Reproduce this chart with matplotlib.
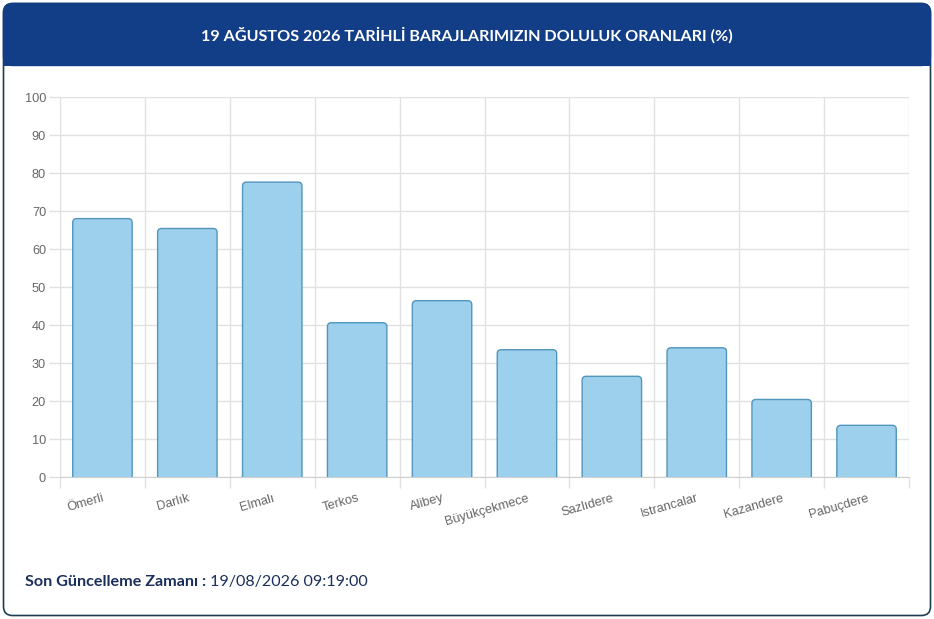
import matplotlib
matplotlib.use('Agg')
import matplotlib.pyplot as plt
from matplotlib.patches import FancyBboxPatch, Rectangle

W, H = 934, 619

baraj_adlari = ['Ömerli', 'Darlık', 'Elmalı', 'Terkos', 'Alibey', 'Büyükçekmece',
                'Sazlıdere', 'Istrancalar', 'Kazandere', 'Pabuçdere']
doluluk = [68.0, 65.4, 77.6, 40.6, 46.4, 33.5, 26.5, 34.0, 20.4, 13.6]
y_ticks = list(range(0, 101, 10))

baslik = '19 AĞUSTOS 2026 TARİHLİ BARAJLARIMIZIN DOLULUK ORANLARI (%)'
guncelleme_etiket = 'Son Güncelleme Zamanı :'
guncelleme_zaman = '19/08/2026 09:19:00'

NAVY = '#123e87'
BORDER = '#1e3f52'
GRID = '#e1e1e1'
TICK = '#666666'
BAR_FACE = '#9dd0ec'
BAR_EDGE = '#5296bc'

fig = plt.figure(figsize=(W / 100, H / 100), dpi=100)

# background card
bg = fig.add_axes([0, 0, 1, 1], zorder=0)
bg.set_xlim(0, W)
bg.set_ylim(H, 0)
bg.axis('off')
bg.add_patch(FancyBboxPatch((3.5, 3.5), W - 7, H - 7,
                            boxstyle='round,pad=0,rounding_size=9',
                            fc='white', ec=BORDER, lw=1.2))
bg.add_patch(FancyBboxPatch((3.5, 3.5), W - 7, 62,
                            boxstyle='round,pad=0,rounding_size=9',
                            fc=NAVY, ec=NAVY, lw=1))
bg.add_patch(Rectangle((3.5, 40), W - 7, 25.5, fc=NAVY, ec='none'))
bg.text(W / 2, 35, baslik, color='white', ha='center', va='center',
        fontsize=11.6, fontweight='bold', family='Lato')
t1 = bg.text(25, 582, guncelleme_etiket, color='#1b2f5c', ha='left', va='center',
             fontsize=11.6, fontweight='bold', family='Lato')
fig.canvas.draw()
bb = t1.get_window_extent()
x_end = bb.x1 + 4
bg.text(x_end, 582, guncelleme_zaman, color='#1b2f5c', ha='left', va='center',
        fontsize=11.6, family='Lato')

# chart
left, right = 60 / W, 909 / W
top, bottom = 1 - 97 / H, 1 - 477 / H
ax = fig.add_axes([left, bottom, right - left, top - bottom], zorder=1)
ax.set_facecolor('none')
n = len(baraj_adlari)
ax.set_xlim(-0.5, n - 0.5)
ax.set_ylim(0, 100)

bw = 0.7
px_x = (right - left) * W / n
px_y = (top - bottom) * H / 100
r = 4 / px_x
for i, v in enumerate(doluluk):
    p = FancyBboxPatch((i - bw / 2, -3), bw, v + 3,
                       boxstyle='round,pad=0,rounding_size=%f' % r,
                       mutation_aspect=px_x / px_y,
                       fc=BAR_FACE, ec=BAR_EDGE, lw=1, zorder=3)
    ax.add_patch(p)

ax.set_yticks(y_ticks)
ax.set_yticklabels([str(t) for t in y_ticks], family='Liberation Sans', fontsize=9.2, color=TICK)
ax.set_xticks(range(n))
ax.set_xticklabels(baraj_adlari, rotation=16, ha='right', va='top', rotation_mode='anchor',
                   family='Liberation Sans', fontsize=9.2, color=TICK)
ax.set_xticks([i - 0.5 for i in range(n + 1)], minor=True)
ax.tick_params(axis='x', which='major', length=0, pad=11)
ax.tick_params(axis='x', which='minor', length=8, color=GRID, width=1)
ax.tick_params(axis='y', length=8, color=GRID, width=1, pad=2)
ax.grid(True, axis='y', which='major', color=GRID, lw=1, zorder=0)
ax.grid(True, axis='x', which='minor', color=GRID, lw=1, zorder=0)
for s in ['top', 'right']:
    ax.spines[s].set_visible(False)
ax.spines['left'].set_color(GRID)
ax.spines['bottom'].set_color('#cfcfcf')
ax.set_axisbelow(True)

fig.savefig('out.png', dpi=100)
